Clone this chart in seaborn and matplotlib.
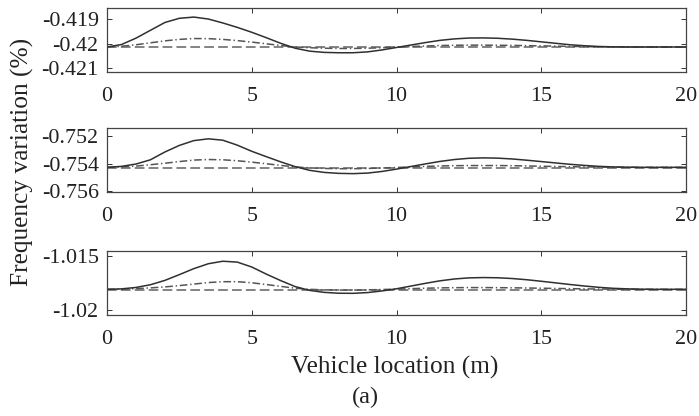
import matplotlib
matplotlib.use("Agg")
import matplotlib.pyplot as plt
import numpy as np
import pandas as pd
import seaborn as sns

# Vehicle position along the span (m)
location = [0.0, 0.5, 1.0, 1.5, 2.0, 2.5, 3.0, 3.5, 4.0, 4.5, 5.0, 5.5, 6.0, 6.5,
            7.0, 7.5, 8.0, 8.5, 9.0, 9.5, 10.0, 10.5, 11.0, 11.5, 12.0, 12.5, 13.0,
            13.5, 14.0, 14.5, 15.0, 15.5, 16.0, 16.5, 17.0, 17.5, 18.0, 18.5, 19.0,
            19.5, 20.0]

# Mode 1 frequency variation (%)
m1_solid = [-0.420130, -0.420030, -0.419770, -0.419450, -0.419130, -0.418960, -0.418910,
            -0.418990, -0.419150, -0.419330, -0.419530, -0.419750, -0.419980, -0.420180,
            -0.420300, -0.420350, -0.420365, -0.420365, -0.420330, -0.420250, -0.420150,
            -0.420050, -0.419950, -0.419860, -0.419800, -0.419765, -0.419760, -0.419775,
            -0.419810, -0.419860, -0.419920, -0.419980, -0.420040, -0.420080, -0.420110,
            -0.420125, -0.420130, -0.420130, -0.420130, -0.420130, -0.420130]
m1_dashdot = [-0.420130, -0.420100, -0.420040, -0.419960, -0.419880, -0.419820, -0.419785,
              -0.419790, -0.419820, -0.419870, -0.419930, -0.420000, -0.420070, -0.420130,
              -0.420160, -0.420180, -0.420190, -0.420190, -0.420180, -0.420160, -0.420130,
              -0.420110, -0.420090, -0.420070, -0.420060, -0.420055, -0.420055, -0.420060,
              -0.420065, -0.420075, -0.420085, -0.420095, -0.420105, -0.420115, -0.420122,
              -0.420127, -0.420130, -0.420130, -0.420130, -0.420130, -0.420130]
m1_dashed = [-0.42014] * 41

# Mode 2 frequency variation (%)
m2_solid = [-0.754250, -0.754180, -0.754010, -0.753700, -0.753130, -0.752650, -0.752300,
            -0.752170, -0.752270, -0.752630, -0.753080, -0.753470, -0.753850, -0.754200,
            -0.754470, -0.754620, -0.754690, -0.754710, -0.754670, -0.754550, -0.754380,
            -0.754190, -0.754000, -0.753820, -0.753680, -0.753590, -0.753560, -0.753580,
            -0.753640, -0.753730, -0.753830, -0.753930, -0.754030, -0.754110, -0.754180,
            -0.754220, -0.754240, -0.754250, -0.754250, -0.754250, -0.754250]
m2_dashdot = [-0.754250, -0.754220, -0.754160, -0.754060, -0.753950, -0.753830, -0.753720,
              -0.753680, -0.753700, -0.753770, -0.753870, -0.753990, -0.754110, -0.754220,
              -0.754290, -0.754330, -0.754350, -0.754350, -0.754330, -0.754300, -0.754260,
              -0.754220, -0.754180, -0.754150, -0.754130, -0.754120, -0.754120, -0.754120,
              -0.754130, -0.754150, -0.754170, -0.754190, -0.754205, -0.754220, -0.754232,
              -0.754242, -0.754247, -0.754250, -0.754250, -0.754250, -0.754250]
m2_dashed = [-0.75430] * 41

# Mode 3 frequency variation (%)
m3_solid = [-1.018100, -1.018060, -1.017930, -1.017680, -1.017280, -1.016750, -1.016200,
            -1.015750, -1.015520, -1.015600, -1.016050, -1.016700, -1.017300, -1.017850,
            -1.018200, -1.018380, -1.018460, -1.018470, -1.018400, -1.018250, -1.018050,
            -1.017800, -1.017550, -1.017320, -1.017150, -1.017050, -1.017020, -1.017040,
            -1.017110, -1.017220, -1.017360, -1.017510, -1.017660, -1.017800, -1.017920,
            -1.018010, -1.018060, -1.018090, -1.018100, -1.018100, -1.018100]
m3_dashdot = [-1.018100, -1.018080, -1.018040, -1.017970, -1.017880, -1.017760, -1.017620,
              -1.017480, -1.017400, -1.017400, -1.017500, -1.017660, -1.017830, -1.018000,
              -1.018100, -1.018150, -1.018170, -1.018170, -1.018150, -1.018120, -1.018080,
              -1.018040, -1.018000, -1.017970, -1.017950, -1.017940, -1.017940, -1.017950,
              -1.017960, -1.017980, -1.018000, -1.018020, -1.018040, -1.018060, -1.018075,
              -1.018088, -1.018095, -1.018100, -1.018100, -1.018100, -1.018100]
m3_dashed = [-1.01814] * 41

xticks = [0, 5, 10, 15, 20]
ytick_values = [[-0.421, -0.420, -0.419], [-0.756, -0.754, -0.752], [-1.020, -1.015]]
ytick_labels = [["-0.421", "-0.42", "-0.419"], ["-0.756", "-0.754", "-0.752"], ["-1.02", "-1.015"]]
ylims = [(-0.42115, -0.41854), (-0.75605, -0.75138), (-1.02046, -1.01458)]

sns.set_style("ticks")
plt.rcParams["font.family"] = ["Liberation Serif", "DejaVu Serif"]
plt.rcParams["lines.scale_dashes"] = False

W, H = 699, 416
fig = plt.figure(figsize=(W / 100, H / 100), dpi=100)
fig.patch.set_facecolor("white")

panel_bottoms_px = [72, 192, 315]
panel_h_px = 64
left_px, right_px = 107, 686

series = [(m1_solid, m1_dashdot, m1_dashed),
          (m2_solid, m2_dashdot, m2_dashed),
          (m3_solid, m3_dashdot, m3_dashed)]

for i, (solid, dashdot, dashed) in enumerate(series):
    ax = fig.add_axes([left_px / W, 1 - panel_bottoms_px[i] / H,
                       (right_px - left_px) / W, panel_h_px / H])
    df = pd.DataFrame({"x": location, "solid": solid, "dashdot": dashdot, "dashed": dashed})
    sns.lineplot(data=df, x="x", y="dashed", ax=ax, color="#7a7a7a", lw=1.3,
                 linestyle=(0, (7.0, 3.0)))
    sns.lineplot(data=df, x="x", y="dashdot", ax=ax, color="#555555", lw=1.1,
                 linestyle=(0, (5.5, 2.0, 1.0, 2.0)))
    sns.lineplot(data=df, x="x", y="solid", ax=ax, color="#303030", lw=1.1)

    ax.set_xlim(0, 20)
    ax.set_ylim(*ylims[i])
    ax.set_xticks(xticks)
    ax.set_xticklabels([str(t) for t in xticks])
    ax.set_yticks(ytick_values[i])
    ax.set_yticklabels(ytick_labels[i])
    ax.set_xlabel("")
    ax.set_ylabel("")
    ax.tick_params(axis="both", direction="in", length=3.6, width=0.7,
                   top=True, right=True, colors="#333333", labelcolor="#222222",
                   labelsize=15.8)
    ax.tick_params(axis="x", pad=10.5)
    ax.tick_params(axis="y", pad=6.0)
    for sp in ax.spines.values():
        sp.set_visible(True)
        sp.set_color("#444444")
        sp.set_linewidth(0.9)

fig.text(22 / W, 1 - 162 / H, "Frequency variation (%)", rotation=90,
         ha="center", va="center", fontsize=18.3, color="#222222")
fig.text(395 / W, 1 - 367 / H, "Vehicle location (m)", ha="center", va="center",
         fontsize=18.3, color="#222222")
fig.text(365 / W, 1 - 397 / H, "(a)", ha="center", va="center",
         fontsize=17.5, color="#222222")

fig.savefig("out.png", dpi=100, facecolor="white")
